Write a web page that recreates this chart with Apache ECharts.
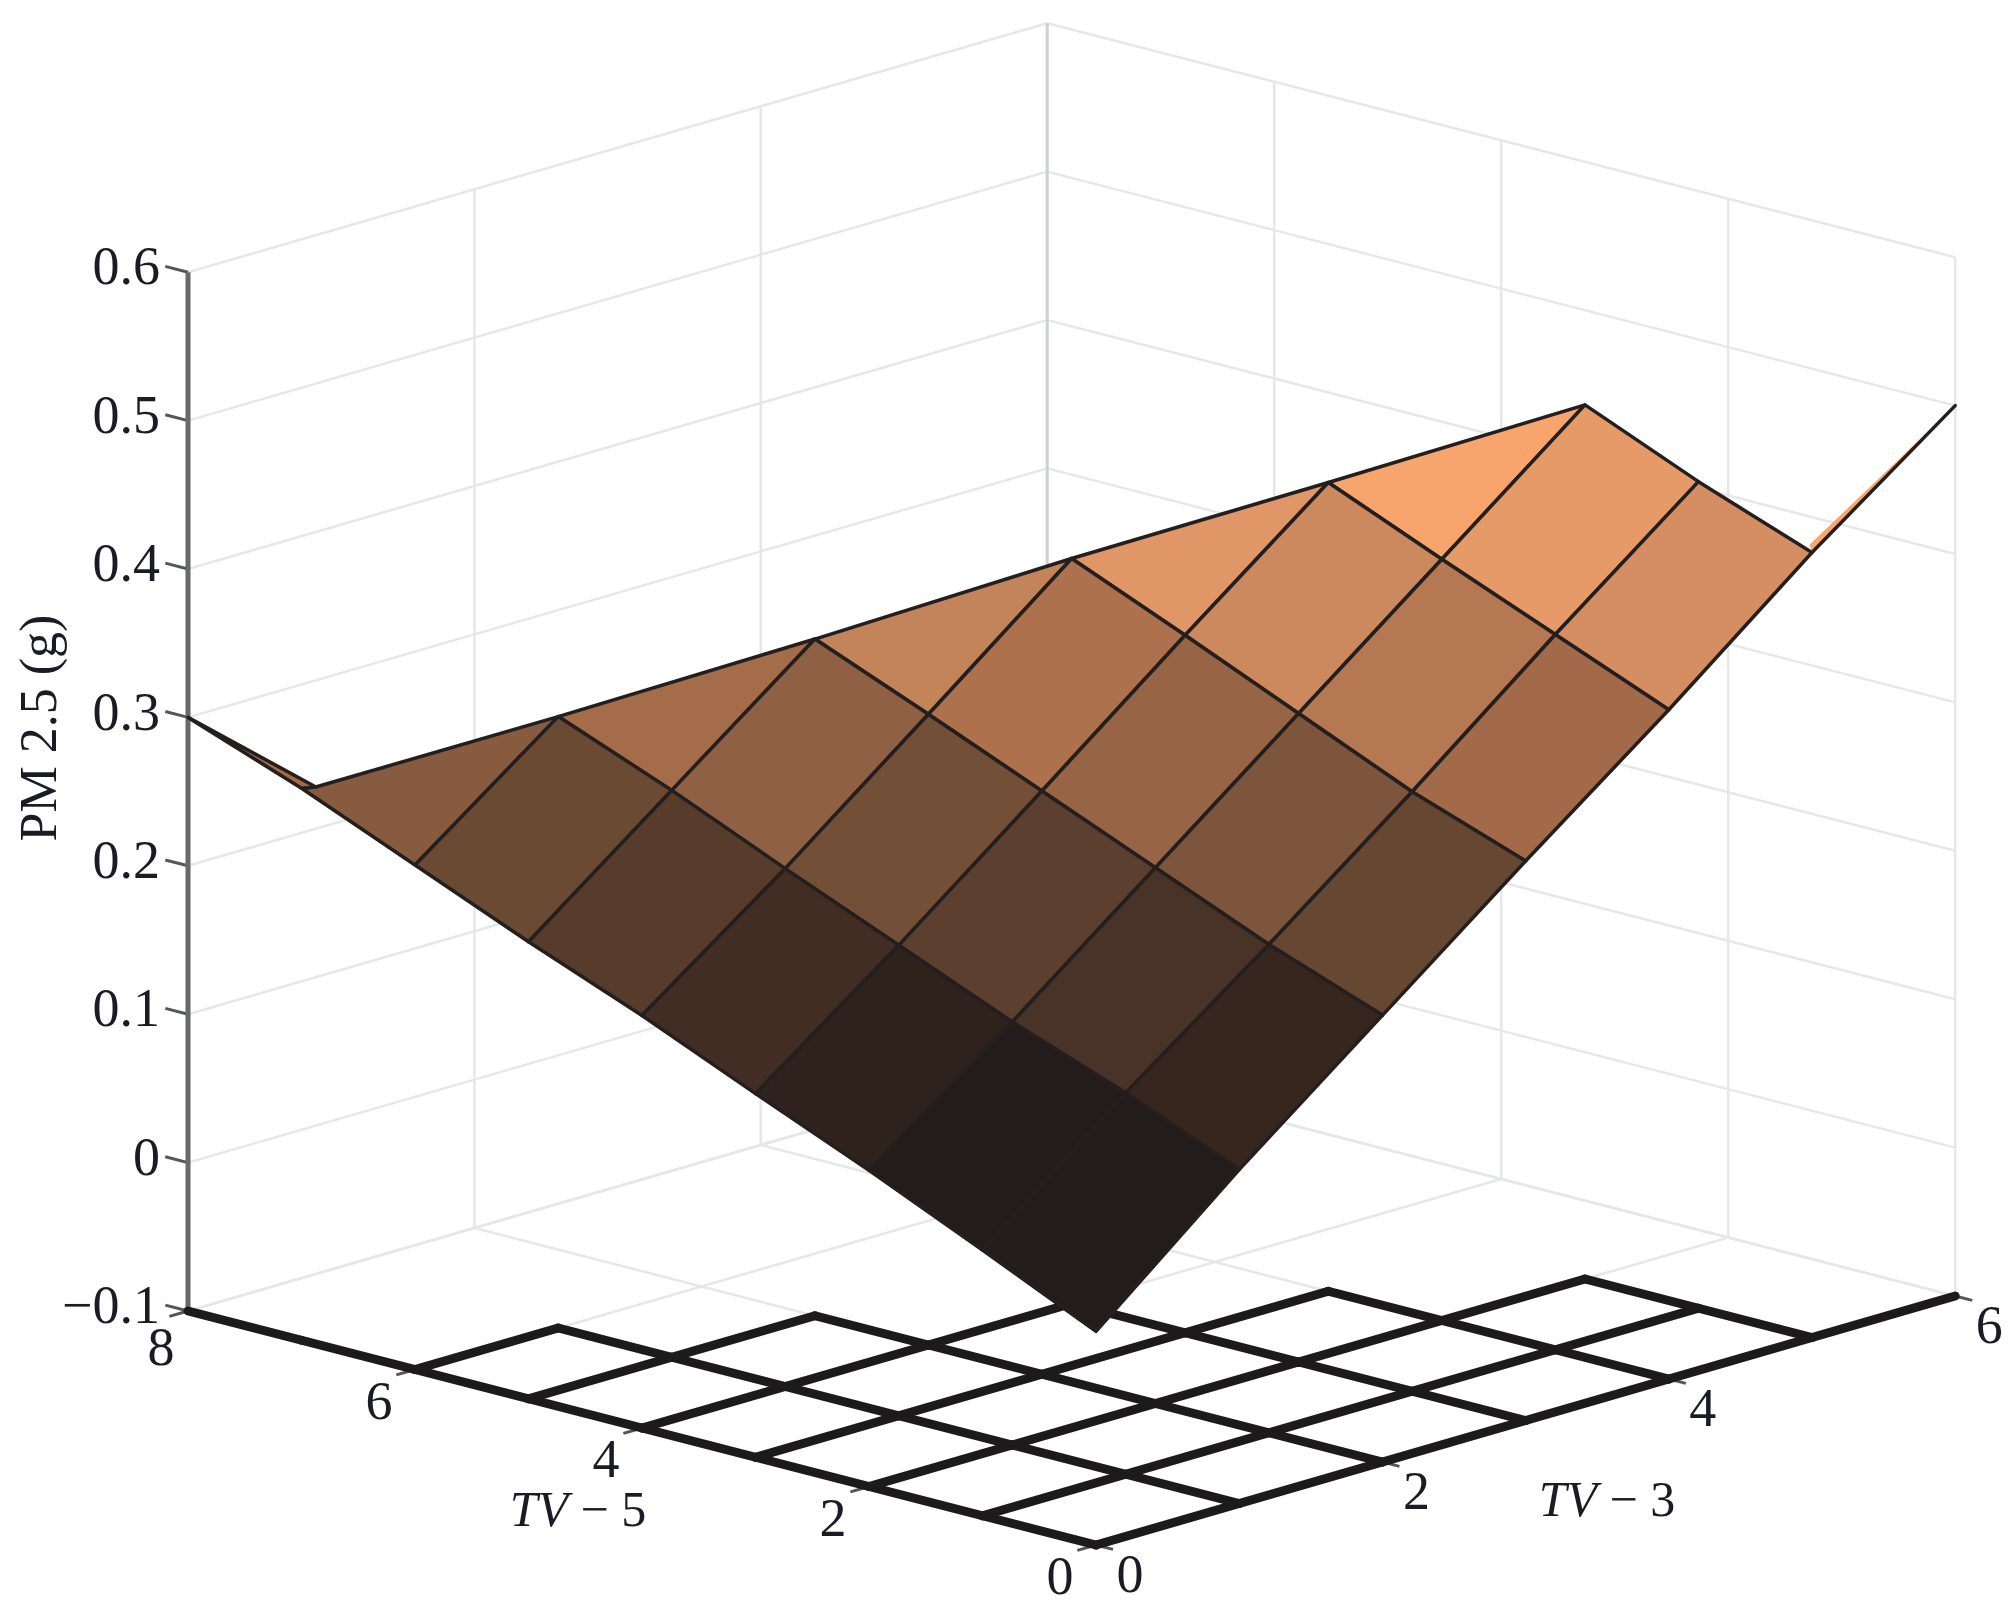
<!DOCTYPE html>
<html>
<head>
<meta charset="utf-8">
<title>PM 2.5 surface</title>
<style>
html, body { margin: 0; padding: 0; background: #fff; }
#chart { width: 2016px; height: 1619px; }
</style>
<script src="https://cdn.jsdelivr.net/npm/echarts@6/dist/echarts.min.js"></script>
</head>
<body>
<div id="chart"></div>
<script>
// rows are TV-5 = 0..8, columns are TV-3 = 0..6, null = no mesh node there
var tv5Values = [0, 1, 2, 3, 4, 5, 6, 7, 8];
var tv3Values = [0, 1, 2, 3, 4, 5, 6];
var pm25Rows = [
    [0.044, 0.125, 0.201, 0.277, 0.351, 0.429, 0.500],
    [0.079, 0.157, 0.229, 0.304, 0.382, 0.457, null],
    [0.113, 0.185, 0.261, 0.337, 0.413, 0.489, null],
    [0.145, 0.217, 0.293, 0.370, 0.445, null, null],
    [0.178, 0.249, 0.325, 0.402, null, null, null],
    [0.208, 0.282, 0.356, null, null, null, null],
    [0.240, 0.312, null, null, null, null, null],
    [0.272, null, null, null, null, null, null],
    [0.300, null, null, null, null, null, null]
];
// the two thin slivers at the ends of the surface: [tv5, tv3, pm]
var sliverLeft = [[8, 0, 0.300], [7, 0, 0.272], [7, 0.1, 0.270]];
var sliverRight = [[0, 6, 0.500], [0, 5, 0.429], [0.02, 5, 0.434]];

var tv5Ticks = [0, 2, 4, 6, 8];
var tv3Ticks = [0, 2, 4, 6];
var pmTicks = [-0.1, 0, 0.1, 0.2, 0.3, 0.4, 0.5, 0.6];

// cell colour by its lowest corner: [pm, r, g, b]
var colorStops = [
    [0.044, 35, 28, 28], [0.082, 36, 28, 28], [0.113, 47, 33, 27], [0.145, 65, 45, 36],
    [0.178, 87, 60, 44], [0.208, 107, 74, 52], [0.249, 143, 96, 68], [0.282, 165, 108, 73],
    [0.325, 196, 132, 90], [0.370, 224, 150, 102], [0.413, 247, 165, 109], [0.500, 250, 172, 115]
];

// fixed viewing direction, the picture is an orthographic view
var view = { ox: 1096, oy: 1545, ax: -113.5, ay: -29.25, bx: 143.2, by: -41.5, zy: -1484 };
var serif = '"Liberation Serif", "DejaVu Serif", serif';
var labelColor = '#1b1b26';
var wallColor = '#e6e7e9';
var meshColor = '#241f1e';

function pmColor(pm) {
    var s = colorStops;
    if (pm <= s[0][0]) return 'rgb(' + s[0].slice(1).join(',') + ')';
    for (var i = 1; i < s.length; i++) {
        if (pm <= s[i][0]) {
            var t = (pm - s[i - 1][0]) / (s[i][0] - s[i - 1][0]);
            return 'rgb(' + [1, 2, 3].map(function(k) {
                return Math.round(s[i - 1][k] + t * (s[i][k] - s[i - 1][k]));
            }).join(',') + ')';
        }
    }
    return 'rgb(' + s[s.length - 1].slice(1).join(',') + ')';
}

function project(api, tv5, tv3, pm) {
    return api.coord([
        view.ox + view.ax * tv5 + view.bx * tv3,
        view.oy + view.ay * tv5 + view.by * tv3 + view.zy * (pm + 0.1)
    ]);
}

// --- box lines ---
var zBottom = pmTicks[0], zTop = pmTicks[pmTicks.length - 1];
var tv5Max = tv5Ticks[tv5Ticks.length - 1], tv3Max = tv3Ticks[tv3Ticks.length - 1];
var wallLines = [];
pmTicks.forEach(function(z) {
    wallLines.push([tv5Max, 0, z, tv5Max, tv3Max, z]);
    wallLines.push([tv5Max, tv3Max, z, 0, tv3Max, z]);
});
tv3Ticks.forEach(function(b) {
    wallLines.push([0, b, zBottom, tv5Max, b, zBottom]);
    if (b > 0) wallLines.push([tv5Max, b, zBottom, tv5Max, b, zTop]);
});
tv5Ticks.forEach(function(a) {
    wallLines.push([a, 0, zBottom, a, tv3Max, zBottom]);
    if (a < tv5Max) wallLines.push([a, tv3Max, zBottom, a, tv3Max, zTop]);
});

// --- mesh shadow on the floor, every link between neighbouring nodes ---
var floorLines = [];
pm25Rows.forEach(function(row, i) {
    row.forEach(function(v, j) {
        if (v === null) return;
        if (pm25Rows[i + 1] && pm25Rows[i + 1][j] !== null) {
            floorLines.push([tv5Values[i], tv3Values[j], zBottom, tv5Values[i + 1], tv3Values[j], zBottom]);
        }
        if (j + 1 < row.length && row[j + 1] !== null) {
            floorLines.push([tv5Values[i], tv3Values[j], zBottom, tv5Values[i], tv3Values[j + 1], zBottom]);
        }
    });
});

// --- surface cells ---
var openCells = ['0_5'];
var cellExtras = { '6_0': sliverLeft[2] };
var surfaceCells = [];
for (var i = pm25Rows.length - 2; i >= 0; i--) {
    for (var j = tv3Values.length - 2; j >= 0; j--) {
        if (openCells.indexOf(i + '_' + j) >= 0) continue;
        var corners = [[i, j], [i + 1, j], [i + 1, j + 1], [i, j + 1]]
            .filter(function(c) { return pm25Rows[c[0]][c[1]] !== null; })
            .map(function(c) { return [tv5Values[c[0]], tv3Values[c[1]], pm25Rows[c[0]][c[1]]]; });
        if (corners.length < 3) continue;
        if (cellExtras[i + '_' + j]) corners.splice(2, 0, cellExtras[i + '_' + j]);
        surfaceCells.push({ corners: corners, color: pmColor(pm25Rows[i][j]), stroke: meshColor });
    }
}
surfaceCells.push({ corners: sliverLeft, color: '#a66c40', stroke: meshColor });
// the orange sliver on the right has no outline on its open side
surfaceCells.push({ corners: sliverRight, color: pmColor(sliverRight[1][2]), stroke: null });

function lineSeries(data, color, width, cap) {
    return {
        type: 'custom',
        coordinateSystem: 'cartesian2d',
        silent: true,
        clip: false,
        data: data,
        renderItem: function(params, api) {
            var d = data[params.dataIndex];
            var p = project(api, d[0], d[1], d[2]);
            var q = project(api, d[3], d[4], d[5]);
            return {
                type: 'line',
                shape: { x1: p[0], y1: p[1], x2: q[0], y2: q[1] },
                style: { stroke: color, lineWidth: width, lineCap: cap || 'butt' }
            };
        }
    };
}

// tick labels: value, position in the box and a pixel nudge
var tickLabels = [];
tv5Ticks.forEach(function(a) {
    tickLabels.push({ text: String(a), at: [a, 0, zBottom], dx: a === 8 ? -27 : -36, dy: a === 8 ? 40 : 35, align: 'center' });
});
tv3Ticks.forEach(function(b) {
    tickLabels.push({ text: String(b), at: [0, b, zBottom], dx: 34, dy: 33, align: 'center' });
});
pmTicks.forEach(function(z) {
    tickLabels.push({ text: (z < 0 ? '\u2212' : '') + String(Math.abs(z)), at: [tv5Max, 0, z], dx: -28, dy: -2, align: 'right' });
});

var tickLines = [];
tv5Ticks.forEach(function(a) { tickLines.push([a, 0, zBottom, a, -0.13, zBottom]); });
tv3Ticks.forEach(function(b) { tickLines.push([0, b, zBottom, -0.15, b, zBottom]); });
pmTicks.forEach(function(z) { tickLines.push([tv5Max, 0, z, tv5Max + 0.2, 0, z]); });

var axisTitles = [
    { rich: '{t|TV}{n| \u2212 5}', x: 578, y: 1513, rotation: 0 },
    { rich: '{t|TV}{n| \u2212 3}', x: 1607, y: 1503, rotation: 0 },
    { rich: '{n|PM 2.5 (g)}', x: 42, y: 728, rotation: Math.PI / 2 }
];

var option = {
    backgroundColor: '#ffffff',
    animation: false,
    grid: { left: 0, right: 0, top: 0, bottom: 0 },
    xAxis: { type: 'value', min: 0, max: 2016, show: false },
    yAxis: { type: 'value', min: 0, max: 1619, inverse: true, show: false },
    series: [
        lineSeries(wallLines, wallColor, 2.5),
        lineSeries([[tv5Max, tv3Max, zBottom, tv5Max, tv3Max, zTop]], '#cfd0d2', 3),
        lineSeries(tickLines, '#55565a', 3),
        lineSeries([[tv5Max, 0, zBottom, tv5Max, 0, zTop]], '#68696c', 5),
        lineSeries(floorLines, '#1c1a1a', 9, 'round'),
        {
            type: 'custom',
            coordinateSystem: 'cartesian2d',
            silent: true,
            clip: false,
            data: surfaceCells.map(function(c, k) { return [k, 0]; }),
            renderItem: function(params, api) {
                var cell = surfaceCells[params.dataIndex];
                return {
                    type: 'polygon',
                    shape: { points: cell.corners.map(function(c) { return project(api, c[0], c[1], c[2]); }) },
                    style: { fill: cell.color, stroke: cell.stroke, lineWidth: cell.stroke ? 3.5 : 0, lineJoin: 'round' }
                };
            }
        },
        lineSeries([[sliverRight[0][0], sliverRight[0][1], sliverRight[0][2], sliverRight[1][0], sliverRight[1][1], sliverRight[1][2]]], meshColor, 3.5, 'round'),
        {
            type: 'custom',
            coordinateSystem: 'cartesian2d',
            silent: true,
            clip: false,
            data: tickLabels.map(function(c, k) { return [k, 0]; }),
            renderItem: function(params, api) {
                var l = tickLabels[params.dataIndex];
                var p = project(api, l.at[0], l.at[1], l.at[2]);
                return {
                    type: 'text',
                    x: p[0] + l.dx,
                    y: p[1] + l.dy,
                    style: {
                        text: l.text,
                        font: '54px ' + serif,
                        fill: labelColor,
                        align: l.align,
                        verticalAlign: 'middle'
                    }
                };
            }
        },
        {
            type: 'custom',
            coordinateSystem: 'cartesian2d',
            silent: true,
            clip: false,
            data: axisTitles.map(function(c, k) { return [k, 0]; }),
            renderItem: function(params, api) {
                var t = axisTitles[params.dataIndex];
                var p = api.coord([t.x, t.y]);
                return {
                    type: 'text',
                    x: p[0],
                    y: p[1],
                    rotation: t.rotation,
                    style: {
                        text: t.rich,
                        align: 'center',
                        verticalAlign: 'middle',
                        rich: {
                            t: { font: 'italic 50px ' + serif, fill: labelColor },
                            n: { font: (t.rotation ? '52px ' : '50px ') + serif, fill: labelColor }
                        }
                    }
                };
            }
        }
    ]
};

var myChart = echarts.init(document.getElementById('chart'), null, { renderer: 'canvas' });
myChart.setOption(option);
</script>
</body>
</html>
